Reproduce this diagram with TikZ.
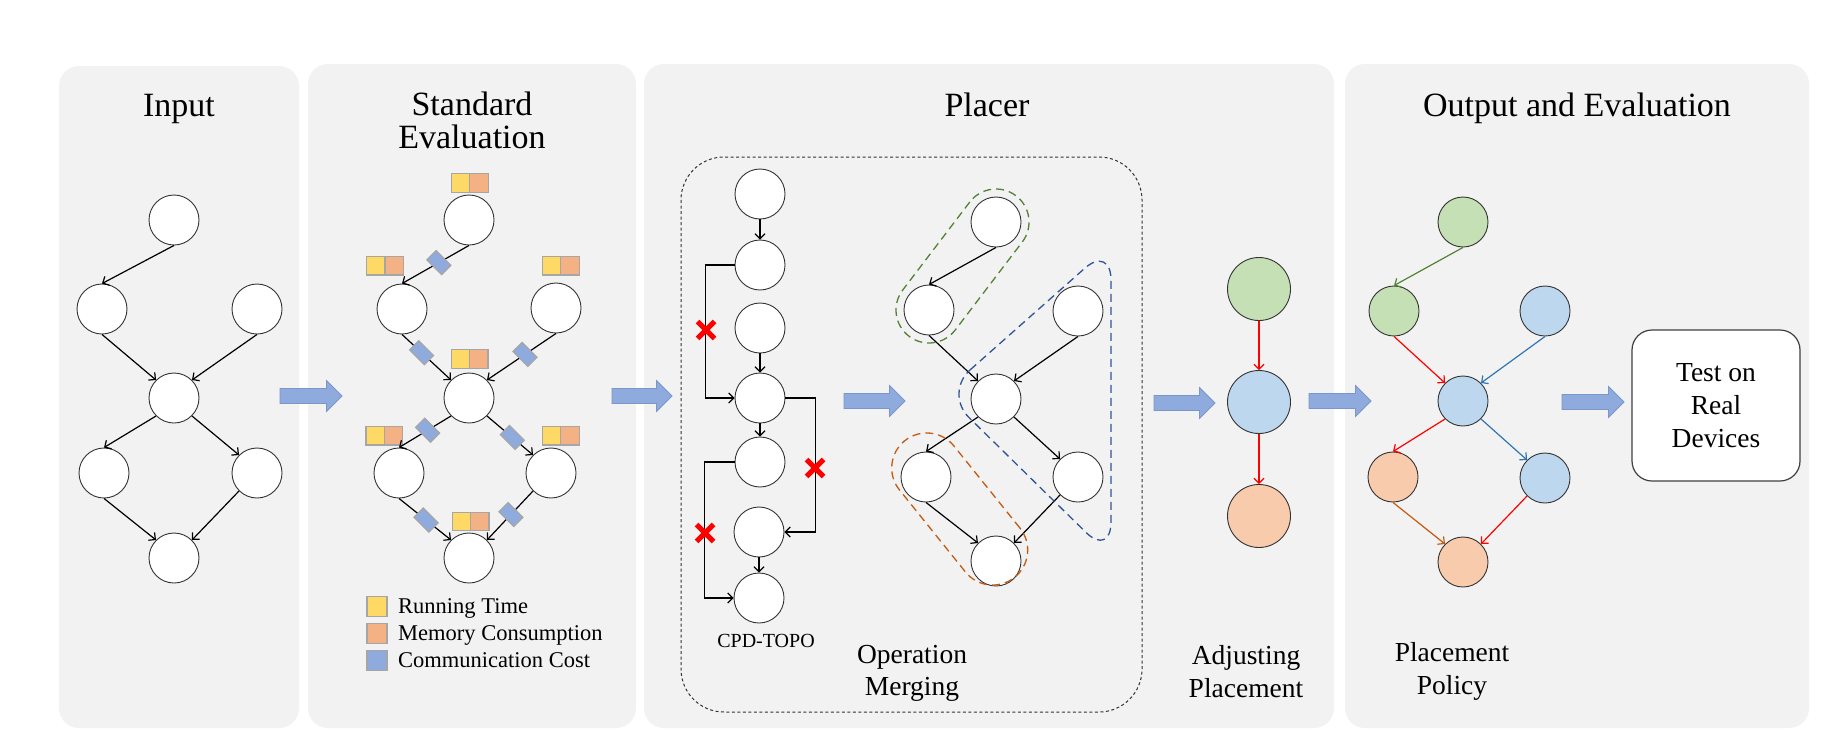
\documentclass[tikz,border=0pt]{standalone}
\usepackage{fontspec}
\setmainfont{Liberation Serif}
\usetikzlibrary{arrows.meta,shapes.misc,calc}
\definecolor{panelc}{HTML}{F2F2F2}
\definecolor{yelc}{HTML}{FFD966}
\definecolor{orgc}{HTML}{F4B183}
\definecolor{commc}{HTML}{8FAADC}
\definecolor{sqb}{HTML}{A6A6A6}
\definecolor{arrc}{HTML}{8FAADC}
\definecolor{arrb}{HTML}{7A96CC}
\definecolor{gfillc}{HTML}{C5E0B4}
\definecolor{bfillc}{HTML}{BDD7EE}
\definecolor{ofillc}{HTML}{F8CBAD}
\definecolor{gline}{HTML}{548235}
\definecolor{bline}{HTML}{2E75B6}
\definecolor{oline}{HTML}{C55A11}
\definecolor{bgroup}{HTML}{2F5597}
\definecolor{ggroup}{HTML}{548235}
\definecolor{ogroup}{HTML}{C55A11}
\newcommand{\blockarrow}[3]{\draw[barrow] (#1,#3-7.5) -- (#2-15.5,#3-7.5) -- (#2-15.5,#3-15.5) -- (#2,#3) -- (#2-15.5,#3+15.5) -- (#2-15.5,#3+7.5) -- (#1,#3+7.5) -- cycle;}
\newcommand{\sqpair}[3]{\node[rt] (#1a) at (#2-9.15,#3) {}; \node[mc] (#1b) at (#2+9.15,#3) {};}
\begin{document}
\begin{tikzpicture}[x=1pt,y=-1pt,
  panel/.style={fill=panelc, rounded corners=20pt, draw=none},
  dbox/.style={draw=black!80, line width=1pt, dash pattern=on 3pt off 2.5pt, rounded corners=43pt},
  barrow/.style={fill=arrc, draw=arrb, line width=0.8pt},
  title/.style={font=\fontsize{34}{33}\selectfont, inner sep=0pt},
  lab/.style={font=\fontsize{27.5}{33}\selectfont, inner sep=0pt},
  leg/.style={font=\fontsize{22.5}{27}\selectfont, inner sep=0pt},
  nd/.style={circle, draw=black!80, fill=white, line width=0.9pt, minimum size=50pt, inner sep=0pt},
  bignd/.style={nd, minimum size=63pt},
  gfill/.style={fill=gfillc}, bfill/.style={fill=bfillc}, ofill/.style={fill=ofillc},
  edge/.style={line width=1.2pt, -{Straight Barb[length=5pt,width=10pt]}},
  rt/.style={rectangle, draw=sqb, line width=1.2pt, fill=yelc, minimum size=18.3pt, inner sep=0pt},
  mc/.style={rt, fill=orgc},
  cc/.style={rectangle, draw=sqb, line width=1.2pt, fill=commc, minimum width=21pt, minimum height=13pt, inner sep=0pt, rotate=-45},
  xmark/.style={cross out, draw=red, line width=5pt, minimum size=12pt, inner sep=0pt},
  grp/.style={line width=1.3pt, dash pattern=on 8pt off 5pt},
  testbox/.style={draw=black!75, fill=white, line width=1.2pt, rounded corners=20pt, minimum width=168pt, minimum height=151pt, align=center, font=\fontsize{27.5}{33}\selectfont}
]
\useasboundingbox (0,0) rectangle (1846,750);
\fill[white] (0,0) rectangle (1846,750);
% panels
\path[panel] (59,66) rectangle (299,728);
\path[panel] (308,64) rectangle (636,728);
\path[panel] (644,64) rectangle (1334,728);
\path[panel] (1345,64) rectangle (1809,728);
\draw[dbox] (681,157) rectangle (1142,712);
% titles
\node[title, anchor=base] (tin) at (179,116) {Input};
\node[title, anchor=base] (tse1) at (472,115) {Standard};
\node[title, anchor=base] (tse2) at (472,148) {Evaluation};
\node[title, anchor=base] (tpl) at (987,116) {Placer};
\node[title, anchor=base] (tout) at (1577,116) {Output and Evaluation};
% block arrows
\blockarrow{280}{342}{396}
\blockarrow{612}{672}{396}
\blockarrow{844}{905}{401}
\blockarrow{1154}{1215}{403}
\blockarrow{1309}{1371}{401}
\blockarrow{1562}{1624}{402}
% Input graph
\node[nd] (i1) at (174,220) {};
\node[nd] (i2) at (102,309) {};
\node[nd] (i3) at (257,309) {};
\node[nd] (i4) at (174,398) {};
\node[nd] (i5) at (104,473) {};
\node[nd] (i6) at (257,473) {};
\node[nd] (i7) at (174,558) {};
\draw[edge] (i1.south) -- (i2.north);
\draw[edge] (i2.south) -- (i4.north west);
\draw[edge] (i3.south) -- (i4.north east);
\draw[edge] (i4.south west) -- (i5.north);
\draw[edge] (i4.south east) -- (i6.north west);
\draw[edge] (i5.south) -- (i7.north west);
\draw[edge] (i6.south west) -- (i7.north east);
% Standard evaluation graph
\node[nd] (s1) at (469,220) {};
\node[nd] (s2) at (402,309) {};
\node[nd] (s3) at (556,308) {};
\node[nd] (s4) at (469,398) {};
\node[nd] (s5) at (399,473) {};
\node[nd] (s6) at (551,473) {};
\node[nd] (s7) at (469,558) {};
\sqpair{q1}{469.8}{183}
\sqpair{q2}{385}{265.8}
\sqpair{q3}{560.8}{265.8}
\sqpair{q4}{469.7}{359}
\sqpair{q5}{384.3}{435.8}
\sqpair{q6}{560.8}{435.8}
\sqpair{q7}{470.7}{521.5}
\draw[edge] (s1.south) -- node[cc, pos=0.45] (c1) {} (s2.north);
\draw[edge] (s2.south) -- node[cc, pos=0.40] (c2) {} (s4.north west);
\draw[edge] (s3.south) -- node[cc, pos=0.45] (c3) {} (s4.north east);
\draw[edge] (s4.south west) -- node[cc, pos=0.45] (c4) {} (s5.north);
\draw[edge] (s4.south east) -- node[cc, pos=0.55] (c5) {} (s6.north west);
\draw[edge] (s5.south) -- node[cc, pos=0.52] (c6) {} (s7.north west);
\draw[edge] (s6.south west) -- node[cc, pos=0.48] (c7) {} (s7.north east);
% legend
\node[rt, minimum size=20pt] (lg1) at (377,606.5) {};
\node[mc, minimum size=20pt] (lg2) at (377,633.5) {};
\node[rt, fill=commc, minimum size=20pt] (lg3) at (377,660.5) {};
\node[leg, anchor=base west] (lt1) at (398,613) {Running Time};
\node[leg, anchor=base west] (lt2) at (398,640) {Memory Consumption};
\node[leg, anchor=base west] (lt3) at (398,667) {Communication Cost};
% CPD-TOPO column
\node[nd] (n1) at (760,194) {};
\node[nd] (n2) at (760,265) {};
\node[nd] (n3) at (760,328) {};
\node[nd] (n4) at (760,398) {};
\node[nd] (n5) at (760,462) {};
\node[nd] (n6) at (759,532) {};
\node[nd] (n7) at (759,598) {};
\draw[edge] (n1.south) -- (n2.north);
\draw[edge] (n3.south) -- (n4.north);
\draw[edge] (n4.south) -- (n5.north);
\draw[edge] (n6.south) -- (n7.north);
\draw[edge] (n2.west) -- ++(-29,0) |- (n4.west);
\draw[edge] (n4.east) -- ++(30,0) |- (n6.east);
\draw[edge] (n5.west) -- ++(-30,0) |- (n7.west);
\node[xmark] (x1) at (706,330) {};
\node[xmark] (x2) at (815,468) {};
\node[xmark] (x3) at (705,533) {};
\node[font=\fontsize{20}{24}\selectfont, inner sep=0pt, anchor=base] (cpd) at (766,647) {CPD-TOPO};
% Operation merging graph
\node[nd] (mA) at (996,222) {};
\node[nd] (mB) at (929,310) {};
\node[nd] (mC) at (1078,311) {};
\node[nd] (mD) at (996,399) {};
\node[nd] (mE) at (926,477) {};
\node[nd] (mF) at (1078,477) {};
\node[nd] (mG) at (996,561) {};
\draw[edge] (mA.south) -- (mB.north);
\draw[edge] (mB.south) -- (mD.north west);
\draw[edge] (mC.south) -- (mD.north east);
\draw[edge] (mD.south west) -- (mE.north);
\draw[edge] (mD.south east) -- (mF.north west);
\draw[edge] (mE.south) -- (mG.north west);
\draw[edge] (mF.south west) -- (mG.north east);
\node[grp, draw=ggroup, rectangle, rounded corners=33pt, minimum width=176.6pt, minimum height=66pt, inner sep=0pt, rotate=52.7] (grpG) at (962.5,266) {};
\node[grp, draw=ogroup, rectangle, rounded corners=35pt, minimum width=175.3pt, minimum height=70pt, inner sep=0pt, rotate=-51.2] (grpO) at (959.7,509) {};
\draw[grp, draw=bgroup, rounded corners=35pt] (944,393) -- (1111,245) -- (1111,557) -- cycle;
\node[lab, anchor=base] (om1) at (912,663) {Operation};
\node[lab, anchor=base] (om2) at (912,695) {Merging};
% Adjusting placement
\node[bignd, gfill] (ag) at (1259,289) {};
\node[bignd, bfill] (ab) at (1259,402) {};
\node[bignd, ofill] (ao) at (1259,516) {};
\draw[edge, red] (ag) -- (ab);
\draw[edge, red] (ab) -- (ao);
\node[lab, anchor=base] (ap1) at (1246,664) {Adjusting};
\node[lab, anchor=base] (ap2) at (1246,697) {Placement};
% Output graph
\node[nd, gfill] (g1) at (1463,222) {};
\node[nd, gfill] (g2) at (1394,311) {};
\node[nd, bfill] (b1) at (1545,311) {};
\node[nd, bfill] (bm) at (1463,401) {};
\node[nd, ofill] (o1) at (1393,477) {};
\node[nd, bfill] (b2) at (1545,478) {};
\node[nd, ofill] (o2) at (1463,562) {};
\draw[edge, gline] (g1.south) -- (g2.north);
\draw[edge, red] (g2.south) -- (bm.north west);
\draw[edge, bline] (b1.south) -- (bm.north east);
\draw[edge, red] (bm.south west) -- (o1.north);
\draw[edge, bline] (bm.south east) -- (b2.north west);
\draw[edge, oline] (o1.south) -- (o2.north west);
\draw[edge, red] (b2.south west) -- (o2.north east);
\node[lab, anchor=base] (pp1) at (1452,661) {Placement};
\node[lab, anchor=base] (pp2) at (1452,694) {Policy};
% Test box
\node[testbox] (test) at (1716,405.5) {Test on\\Real\\Devices};
\end{tikzpicture}
\end{document}
